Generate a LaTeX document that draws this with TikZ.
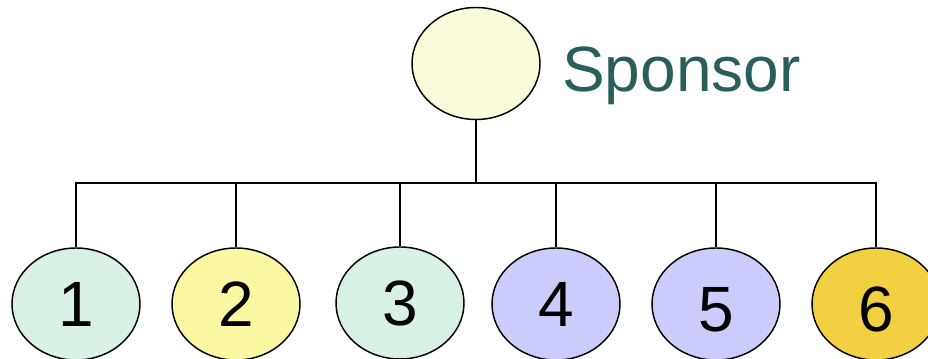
\documentclass[tikz,border=0pt]{standalone}
\usepackage{fontspec}
\setmainfont{Liberation Sans}
\usepackage{xcolor}
\usepackage{tikz}
\usetikzlibrary{shapes.geometric}

\definecolor{topfill}{HTML}{FAFADC}
\definecolor{mint}{HTML}{D8F1E4}
\definecolor{pale}{HTML}{FAF8A2}
\definecolor{lilac}{HTML}{CCCCFC}
\definecolor{gold}{HTML}{F2D042}
\definecolor{teal}{HTML}{2A5E5A}

\begin{document}
\begin{tikzpicture}[x=0.75pt,y=-0.75pt,line width=1.1pt,
  member/.style={ellipse,draw=black,minimum width=96pt,minimum height=84pt,inner sep=0pt},
  digit/.style={font=\fontsize{48}{48}\selectfont,text=black}]
\useasboundingbox (0,0) rectangle (928,359);
\node[member,fill=topfill] (S) at (476,63.5) {};
\node[text=teal,font=\fontsize{48}{48}\selectfont,anchor=base west] (L) at (557,92) {Sponsor};
\node[member,fill=mint] (A) at (76,304) {};
\node[member,fill=pale] (B) at (236,304) {};
\node[member,fill=mint] (C) at (400,303) {};
\node[member,fill=lilac] (D) at (556,304) {};
\node[member,fill=lilac] (E) at (716,304) {};
\node[member,fill=gold] (F) at (876,304) {};
\node[digit,anchor=base] at (76,327) {1};
\node[digit,anchor=base] at (236,327) {2};
\node[digit,anchor=base] at (400,326) {3};
\node[digit,anchor=base] at (556,327) {4};
\node[digit,anchor=base] at (716,332) {5};
\node[digit,anchor=base] at (876,332) {6};
\coordinate (bar) at (476,183);

\draw (S) -- (bar);
\draw (A) |- (bar);
\draw (B) |- (bar);
\draw (C) |- (bar);
\draw (D) |- (bar);
\draw (E) |- (bar);
\draw (F) |- (bar);

\end{tikzpicture}
\end{document}
